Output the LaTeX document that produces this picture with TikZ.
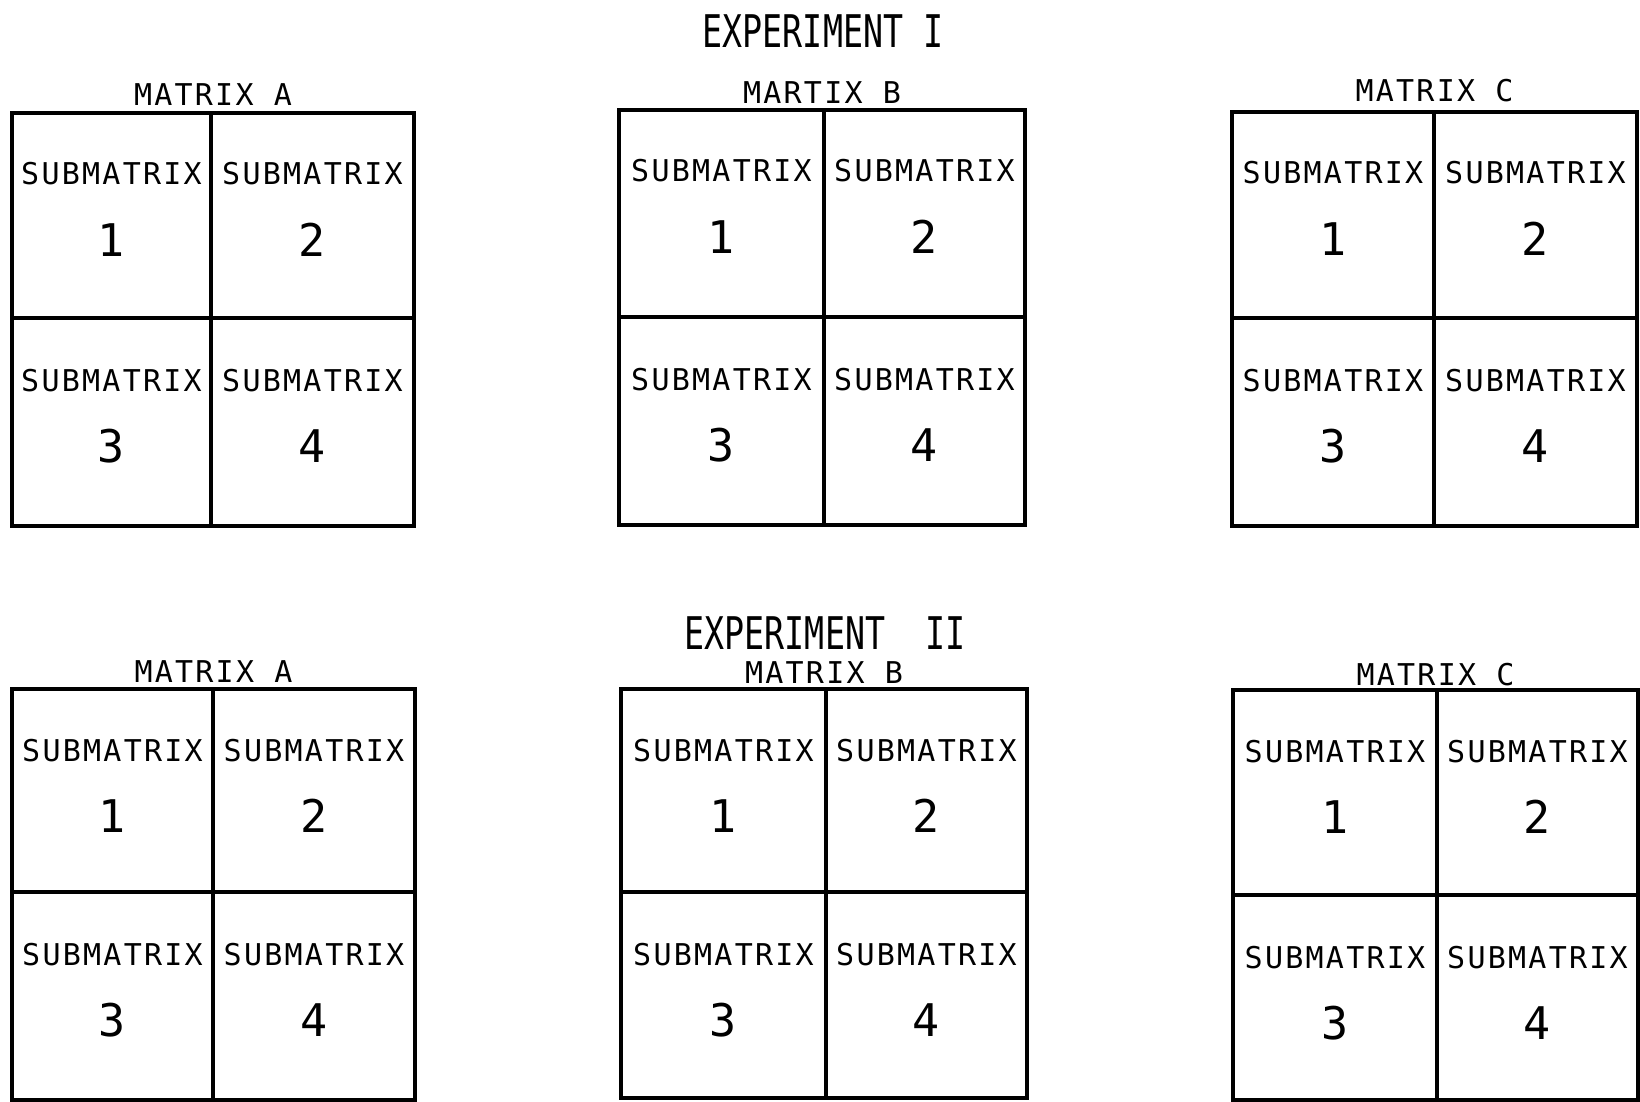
\documentclass[tikz,border=0pt]{standalone}
\usepackage{fontspec}
\newfontfamily\subfont[LetterSpace=7.5]{DejaVu Sans Mono}
\newfontfamily\numfont{DejaVu Sans Mono}
\newfontfamily\titlefont[FakeStretch=0.74]{DejaVu Sans Mono}
\tikzset{
  boxline/.style={line width=4pt, line cap=rect, line join=miter},
  sub/.style={inner sep=0pt, anchor=base, font=\subfont\fontsize{30}{30}\selectfont},
  num/.style={inner sep=0pt, anchor=base, font=\numfont\fontsize{45}{45}\selectfont},
  mlabel/.style={inner sep=0pt, anchor=base, font=\subfont\fontsize{30}{30}\selectfont},
  exptitle/.style={inner sep=0pt, anchor=base, font=\titlefont\fontsize{45}{45}\selectfont},
}
% #1 name, #2 L, #3 T, #4 R, #5 B, #6 MX, #7 MY, #8 label, #9 label baseline
\newcommand\mtxblk[9]{%
  \draw[boxline] (#2,#3) rectangle (#4,#5);
  \draw[boxline] (#6,#3) -- (#6,#5);
  \draw[boxline] (#2,#7) -- (#4,#7);
  \node[mlabel] (#1-lbl) at ({(#2+#4)/2},#9) {#8};
  \node[sub] (#1-s1) at ({(#2+#6)/2},{#3+72}) {SUBMATRIX};
  \node[num] (#1-n1) at ({(#2+#6)/2},{#3+143}) {1};
  \node[sub] (#1-s2) at ({(#6+#4)/2},{#3+72}) {SUBMATRIX};
  \node[num] (#1-n2) at ({(#6+#4)/2},{#3+143}) {2};
  \node[sub] (#1-s3) at ({(#2+#6)/2},{#7+73}) {SUBMATRIX};
  \node[num] (#1-n3) at ({(#2+#6)/2},{#7+144}) {3};
  \node[sub] (#1-s4) at ({(#6+#4)/2},{#7+73}) {SUBMATRIX};
  \node[num] (#1-n4) at ({(#6+#4)/2},{#7+144}) {4};
}
\begin{document}
\begin{tikzpicture}[x=1pt,y=-1pt]
\useasboundingbox[fill=white] (0,0) rectangle (1640,1102);
\node[exptitle] (exp1) at (823,48) {EXPERIMENT I};
\node[exptitle] (exp2) at (825,649) {EXPERIMENT\ \ II};
\mtxblk{ta}{12}{113}{414}{526}{211}{318}{MATRIX A}{106}
\mtxblk{tb}{619}{110}{1025}{525}{824}{317}{MARTIX B}{104}
\mtxblk{tc}{1232}{112}{1637}{526}{1434}{318}{MATRIX C}{102}
\mtxblk{ba}{12}{689}{415}{1100}{213}{892}{MATRIX A}{682}
\mtxblk{bb}{621}{689}{1027}{1098}{826}{892}{MATRIX B}{683}
\mtxblk{bc}{1233}{690}{1638}{1100}{1437}{895}{MATRIX C}{685}
\end{tikzpicture}
\end{document}
